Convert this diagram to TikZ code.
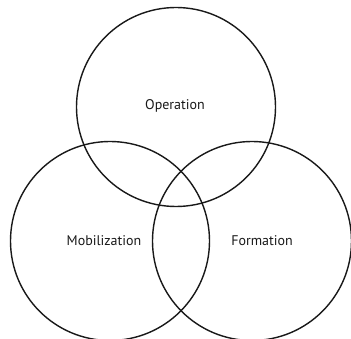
\documentclass[tikz,border=0pt]{standalone}
\usepackage{fontspec}
\setmainfont{PT Sans}
\begin{document}
\begin{tikzpicture}[x=1pt,y=-1pt,
  ring/.style={circle,draw=black!90,line width=1.4pt,minimum size=199pt,inner sep=0pt},
  lbl/.style={font=\fontsize{14}{16}\selectfont,text=black!90}]
\useasboundingbox (0,0) rectangle (351,339);
\node[ring] (top) at (176,107) {};
\node[ring] (left) at (110,241) {};
\node[ring] (right) at (252,241) {};
\node[lbl] (op) at (175,106) {Operation};
\node[lbl] (mob) at (104,241) {Mobilization};
\node[lbl] (form) at (262,241) {Formation};
\end{tikzpicture}
\end{document}
